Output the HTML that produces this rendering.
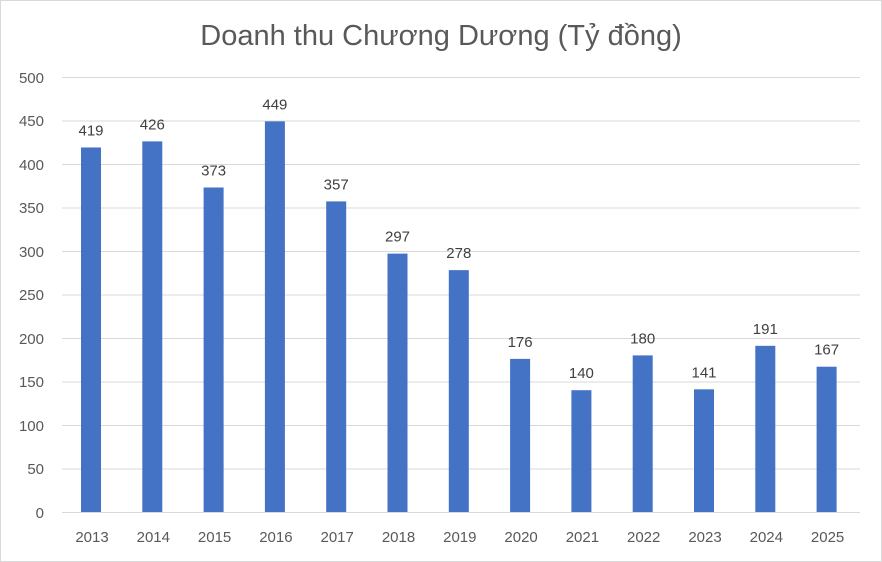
<!DOCTYPE html>
<html><head><meta charset="utf-8"><style>
body{margin:0;background:#fff}
svg{display:block;font-family:"Liberation Sans",Arial,sans-serif}
</style></head><body>
<svg width="882" height="562" viewBox="0 0 882 562">
<rect x="0.5" y="0.5" width="881" height="561" fill="#fff" stroke="#d9d9d9"/>
<text x="441" y="45" text-anchor="middle" font-size="29" fill="#595959">Doanh thu Chương Dương (Tỷ đồng)</text>
<g stroke="#d9d9d9" stroke-width="1">
<line x1="62" x2="860" y1="77.5" y2="77.5"/>
<line x1="62" x2="860" y1="121" y2="121"/>
<line x1="62" x2="860" y1="164.5" y2="164.5"/>
<line x1="62" x2="860" y1="208" y2="208"/>
<line x1="62" x2="860" y1="251.5" y2="251.5"/>
<line x1="62" x2="860" y1="295" y2="295"/>
<line x1="62" x2="860" y1="338.5" y2="338.5"/>
<line x1="62" x2="860" y1="382" y2="382"/>
<line x1="62" x2="860" y1="425.5" y2="425.5"/>
<line x1="62" x2="860" y1="469" y2="469"/>
<line x1="62" x2="860" y1="512.5" y2="512.5"/>
</g>
<g font-size="15" fill="#595959" text-anchor="end">
<text x="44" y="83">500</text><text x="44" y="126">450</text><text x="44" y="170">400</text>
<text x="44" y="213">350</text><text x="44" y="257">300</text><text x="44" y="300">250</text>
<text x="44" y="344">200</text><text x="44" y="387">150</text><text x="44" y="431">100</text>
<text x="44" y="474">50</text><text x="44" y="518">0</text>
</g>
<g fill="#4472c4" id="bars"></g>
<g font-size="15" fill="#404040" text-anchor="middle" id="lbl"></g>
<g font-size="15" fill="#595959" text-anchor="middle" id="xl"></g>
<script>
var v=[419,426,373,449,357,297,278,176,140,180,141,191,167];
var b=document.getElementById('bars'),l=document.getElementById('lbl'),x=document.getElementById('xl');
var ns='http://www.w3.org/2000/svg';
v.forEach(function(d,i){
 var c=91+i*61.3,h=d*0.87,y=512-h;
 var r=document.createElementNS(ns,'rect');r.setAttribute('x',c-10);r.setAttribute('y',y);r.setAttribute('width',20);r.setAttribute('height',h);b.appendChild(r);
 var t=document.createElementNS(ns,'text');t.setAttribute('x',c);t.setAttribute('y',y-12);t.textContent=d;l.appendChild(t);
 var u=document.createElementNS(ns,'text');u.setAttribute('x',c+1);u.setAttribute('y',542);u.textContent=2013+i;x.appendChild(u);
});
</script>
</svg>
</body></html>
